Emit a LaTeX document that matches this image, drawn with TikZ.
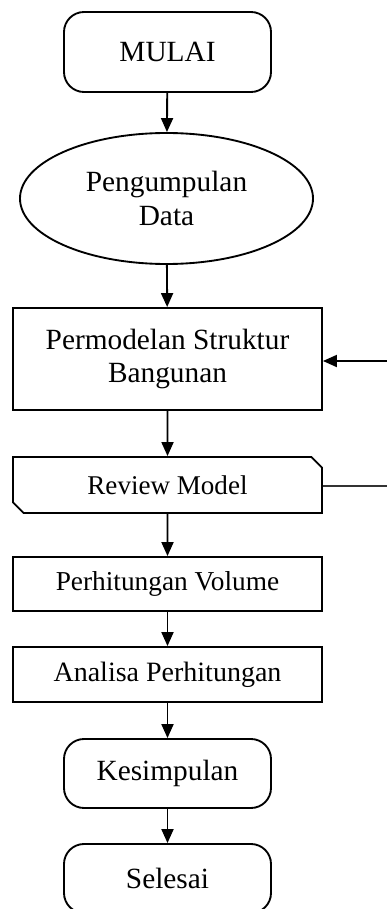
\documentclass[tikz,border=0pt]{standalone}
\usepackage{fontspec}
\setmainfont{Liberation Serif}
\usetikzlibrary{shapes.geometric,shapes.misc,arrows.meta}
\begin{document}
\begin{tikzpicture}[x=0.75pt,y=-0.75pt,
  terminal/.style={draw,line width=1.4pt,rounded corners=15pt,minimum width=155.25pt,inner sep=0pt,font=\fontsize{22}{25.5}\selectfont},
  proses/.style={draw,line width=1.4pt,minimum width=231.75pt,inner sep=0pt,align=center},
  panah/.style={-{Triangle[width=9pt,length=10.5pt]},line width=1.4pt}]
\useasboundingbox (0,0) rectangle (386,909);
\node[terminal,minimum height=60pt] (mulai) at (167.5,52) {MULAI};
\node[draw,ellipse,line width=1.4pt,minimum width=219.75pt,minimum height=98.25pt,inner sep=0pt,align=center,font=\fontsize{22}{26}\selectfont] (data) at (166.5,198.5) {Pengumpulan\\Data};
\node[proses,minimum height=76.5pt,font=\fontsize{22}{25}\selectfont] (model) at (167.5,359) {Permodelan Struktur\\Bangunan};
\node[proses,chamfered rectangle,chamfered rectangle corners={north east,south west},chamfered rectangle xsep=4pt,chamfered rectangle ysep=4pt,minimum height=42pt,font=\fontsize{20.3}{22}\selectfont] (review) at (167.5,485) {Review Model};
\node[proses,minimum height=40.5pt,font=\fontsize{20.5}{24}\selectfont] (volume) at (167.5,584) {Perhitungan Volume};
\node[proses,minimum height=41.25pt,font=\fontsize{21}{24}\selectfont] (analisa) at (167.5,674.5) {Analisa Perhitungan};
\node[terminal,minimum height=51.75pt] (simpul) at (167.5,773.5) {Kesimpulan};
\node[terminal,minimum height=51.75pt] (selesai) at (167.5,878.5) {Selesai};
\coordinate (balikB) at (400,486);
\coordinate (balikA) at (400,361);
\draw[panah] (mulai) -- (data);
\draw[panah] (data) -- (model);
\draw[panah] (model) -- (review);
\draw[panah] (review) -- (volume);
\draw[panah] (volume) -- (analisa);
\draw[panah] (analisa) -- (simpul);
\draw[panah] (simpul) -- (selesai);
\draw[line width=0.8pt,black!80] (review.east |- balikB) -- (balikB) -- (balikA);
\draw[panah] (balikA) -- (model.east |- balikA);
\end{tikzpicture}
\end{document}
